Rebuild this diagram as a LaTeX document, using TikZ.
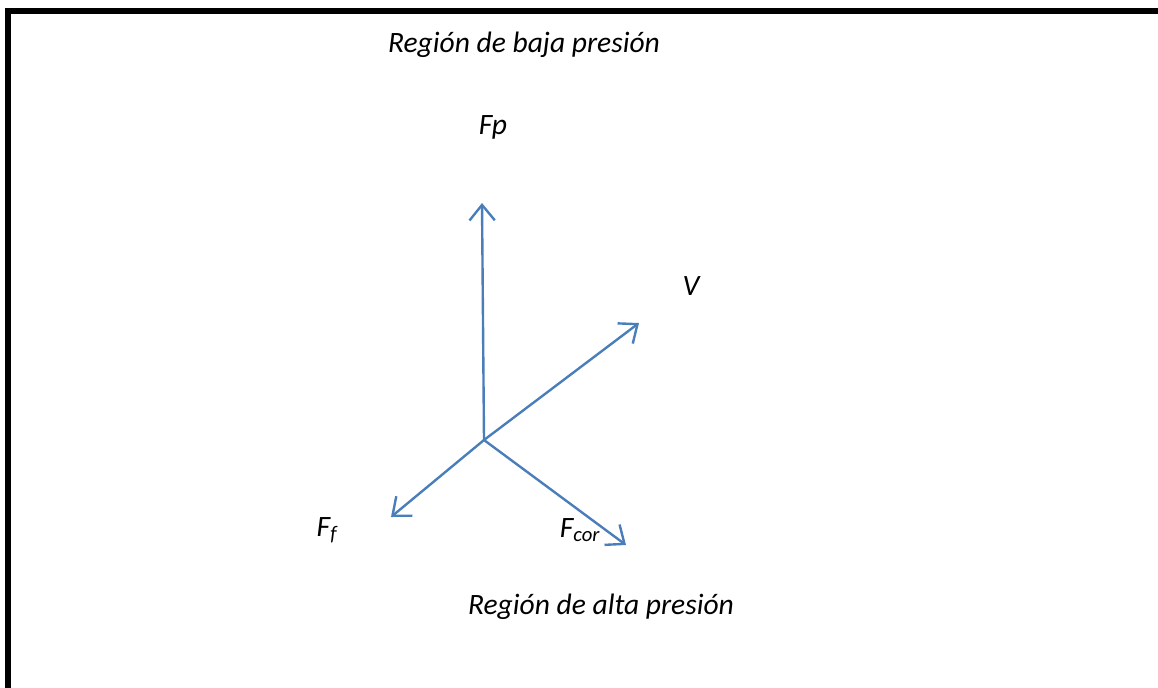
\documentclass[tikz,border=0pt]{standalone}
\usepackage{fontspec}
\setmainfont{Carlito}
\usepackage{xcolor}
\usetikzlibrary{arrows.meta}
\definecolor{vecblue}{HTML}{4A7EBB}

\begin{document}
\begin{tikzpicture}[x=0.025cm, y=-0.025cm,
    vec/.style={vecblue, line width=1.7pt, -{Straight Barb[length=11pt, width=18pt, line width=1.7pt]}},
    lbl/.style={font=\fontsize{21}{24}\selectfont\itshape, inner sep=0pt}]

    % Size of the picture
    \useasboundingbox (0, 0) rectangle (1158, 687);

    % Frame (only top and left edges are visible)
    \draw[line width=3.8pt, line cap=rect] (8, 700) -- (8, 11) -- (1170, 11);

    % Point where the forces act
    \coordinate (O) at (484, 440);

    % Tips of the vectors
    \coordinate (fp) at (482, 203);
    \coordinate (v) at (639, 323);
    \coordinate (ff) at (391, 517);
    \coordinate (fcor) at (626, 545);

    % Vectors
    \draw[vec] (O) -- (fp);
    \draw[vec] (O) -- (v);
    \draw[vec] (O) -- (ff);
    \draw[vec] (O) -- (fcor);

    % Labels
    \node[lbl] (baja) at (524, 45) {Región de baja presión};
    \node[lbl] (fplbl) at (493, 127) {Fp};
    \node[lbl] (vlbl) at (691, 286) {V};
    \node[lbl] (fflbl) at (327, 530) {F\textsubscript{f}};
    \node[lbl] (fcorlbl) at (580, 530) {F\textsubscript{cor}};
    \node[lbl] (alta) at (601, 607) {Región de alta presión};
\end{tikzpicture}
\end{document}
